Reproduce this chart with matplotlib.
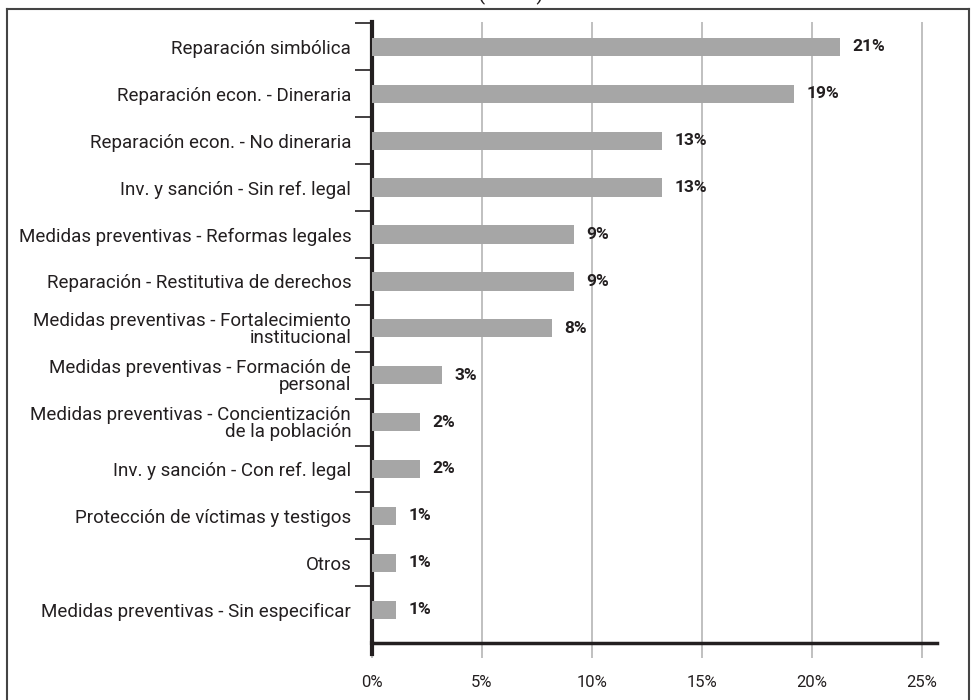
import matplotlib
matplotlib.use('Agg')

import numpy as np
import matplotlib.pyplot as plt
from matplotlib.lines import Line2D

plt.rcParams['font.family'] = ['Roboto', 'DejaVu Sans']

# categories, top to bottom
categories = [
    'Reparación simbólica',
    'Reparación econ. - Dineraria',
    'Reparación econ. - No dineraria',
    'Inv. y sanción - Sin ref. legal',
    'Medidas preventivas - Reformas legales',
    'Reparación - Restitutiva de derechos',
    'Medidas preventivas - Fortalecimiento\ninstitucional',
    'Medidas preventivas - Formación de\npersonal',
    'Medidas preventivas - Concientización\nde la población',
    'Inv. y sanción - Con ref. legal',
    'Protección de víctimas y testigos',
    'Otros',
    'Medidas preventivas - Sin especificar',
]
values = [21.3, 19.2, 13.2, 13.2, 9.2, 9.2, 8.2, 3.2, 2.2, 2.2, 1.1, 1.1, 1.1]
labels = ['21%', '19%', '13%', '13%', '9%', '9%', '8%', '3%', '2%', '2%', '1%', '1%', '1%']
xticks = [0, 5, 10, 15, 20, 25]
xticklabels = ['0%', '5%', '10%', '15%', '20%', '25%']

fig = plt.figure(figsize=(9.72, 7.0), dpi=100)
ax = fig.add_axes([0.3827, 0.0814, 0.5813, 0.8872])

y = np.arange(len(categories))
ax.barh(y, values, height=0.39, color='#a6a6a6', zorder=3)

for yi, v, lab in zip(y, values, labels):
    ax.text(v + 0.55, yi, lab, va='center', ha='left', fontsize=12.5,
            fontweight='bold', color='#231f20', zorder=4)

ax.set_xlim(0, 25.7)
ax.set_ylim(len(categories) - 1 + 0.71, -0.53)

ax.set_yticks(y)
ax.set_yticklabels(categories, fontsize=13.5, color='#231f20', linespacing=0.9)
ax.tick_params(axis='y', which='major', length=0, pad=15)
ax.set_yticks(np.arange(-0.5, len(categories) - 1, 1.0), minor=True)
ax.tick_params(axis='y', which='minor', length=12, width=1.2, color='#231f20')

ax.set_xticks(xticks)
ax.set_xticklabels(xticklabels, fontsize=12, color='#231f20')
ax.tick_params(axis='x', which='major', length=11, width=1.2, color='#b5b5b5', pad=12)
# the y axis runs a little below the x axis
ax.axvline(0, ymin=-0.018, ymax=0, color='#231f20', linewidth=3, clip_on=False, zorder=5)

ax.grid(axis='x', color='#b5b5b5', linewidth=1.2, zorder=0)

for side in ['top', 'right']:
    ax.spines[side].set_visible(False)
ax.spines['left'].set_linewidth(3)
ax.spines['left'].set_color('#231f20')
ax.spines['bottom'].set_linewidth(2.5)
ax.spines['bottom'].set_color('#231f20')

# outer frame of the cropped figure
frame_kw = dict(color='#444444', linewidth=1.5, transform=fig.transFigure)
fig.add_artist(Line2D([0.0075, 0.0075], [0, 0.987], **frame_kw))
fig.add_artist(Line2D([0.9965, 0.9965], [0, 0.987], **frame_kw))
fig.add_artist(Line2D([0.0075, 0.9965], [0.987, 0.987], **frame_kw))

# title mostly cut off at the top
fig.text(0.526, 1.0, '(          )', ha='center', va='baseline', fontsize=15, color='#231f20')

fig.savefig('out.png', dpi=100)
